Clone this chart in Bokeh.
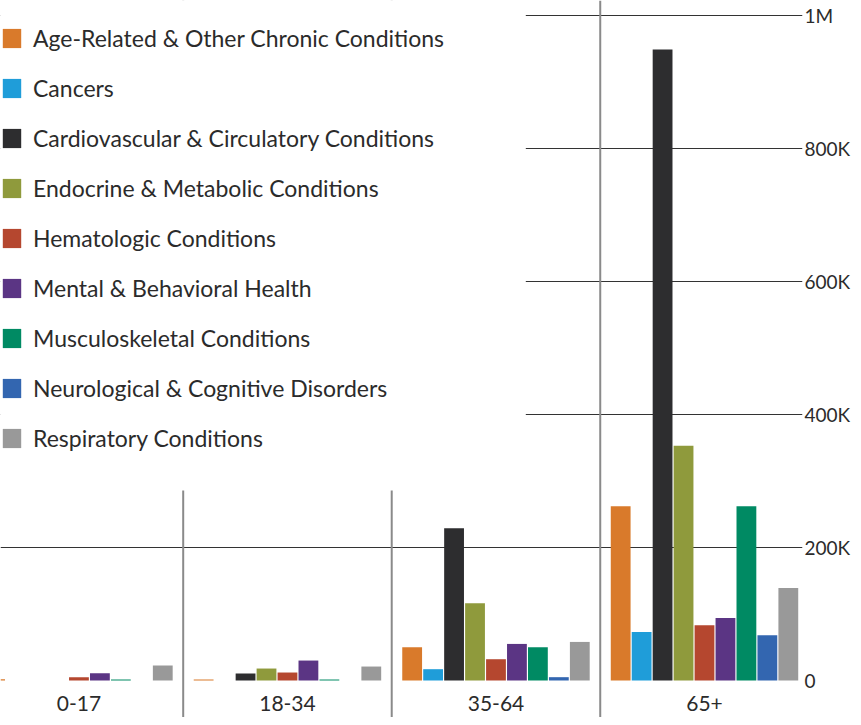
from bokeh.plotting import figure
from bokeh.models import Range1d, FixedTicker, Span, BoxAnnotation, Legend, LegendItem, ColumnDataSource
from bokeh.core.properties import value
from bokeh.embed import file_html
from bokeh.resources import INLINE

age_groups = ["0-17", "18-34", "35-64", "65+"]

categories = [
    "Age-Related & Other Chronic Conditions",
    "Cancers",
    "Cardiovascular & Circulatory Conditions",
    "Endocrine & Metabolic Conditions",
    "Hematologic Conditions",
    "Mental & Behavioral Health",
    "Musculoskeletal Conditions",
    "Neurological & Cognitive Disorders",
    "Respiratory Conditions",
]

colors = ["#D97A2B", "#1F9DD9", "#2D2D2F", "#8F9A3C", "#B5472F",
          "#5B3584", "#008A63", "#3366B0", "#999999"]

age_related = [2000, 1500, 50000, 262000]
cancers = [0, 0, 17000, 73000]
cardiovascular = [0, 10500, 229000, 949000]
endocrine = [0, 18000, 116000, 353000]
hematologic = [5000, 12000, 32000, 83000]
mental = [11000, 30000, 55000, 94000]
musculoskeletal = [1500, 1500, 50000, 262000]
neurological = [0, 0, 5000, 68000]
respiratory = [22500, 21000, 58000, 139000]

series = [age_related, cancers, cardiovascular, endocrine, hematologic,
          mental, musculoskeletal, neurological, respiratory]

y_ticks = [0, 200000, 400000, 600000, 800000, 1000000]
y_tick_labels = ["0", "200K", "400K", "600K", "800K", "1M"]

FONT = "Lato"
TEXT = "#2b2b2b"

p = figure(width=853, height=717, output_backend="svg", toolbar_location=None,
           x_range=Range1d(0.1238, 3.97), y_range=Range1d(-55639, 1022556),
           y_axis_location="right", x_axis_location=None, min_border=0)
p.outline_line_color = None
p.background_fill_color = "white"
p.border_fill_color = "white"

# axis
ax = p.yaxis[0]
ax.ticker = FixedTicker(ticks=y_ticks)
ax.major_label_overrides = {t: l for t, l in zip(y_ticks, y_tick_labels)}
ax.axis_line_color = None
ax.major_tick_line_color = None
ax.minor_tick_line_color = None
ax.major_tick_out = 0
ax.major_tick_in = 0
ax.major_label_standoff = 2
ax.major_label_text_font = FONT
ax.major_label_text_font_size = "19px"
ax.major_label_text_color = TEXT

p.xgrid.visible = False
p.ygrid.ticker = FixedTicker(ticks=y_ticks[1:])
p.ygrid.grid_line_color = "#333333"
p.ygrid.grid_line_width = 1

# group dividers
for k in range(1, len(age_groups)):
    p.add_layout(Span(location=k, dimension="height", line_color="#8a8a8a",
                      line_width=2, level="underlay"))

slot = 0.1005
bar_w = 0.095
n = len(categories)
items = []
for j, (cat, col, vals) in enumerate(zip(categories, colors, series)):
    xs = [g + 0.5 + (j - (n - 1) / 2) * slot for g in range(len(age_groups))]
    src = ColumnDataSource(dict(x=xs, top=vals))
    r = p.vbar(x="x", top="top", bottom=0, width=bar_w, source=src,
               fill_color=col, line_color=None)
    items.append(LegendItem(label=cat, renderers=[r]))

# group labels
p.text(x=[g + 0.5 for g in range(len(age_groups))], y=[-34000] * len(age_groups),
       text=age_groups, text_align="center", text_baseline="middle",
       text_font=value(FONT), text_font_size="21px", text_color=TEXT)

# white area behind legend
p.add_layout(BoxAnnotation(left=-1, right=2.643, bottom=285714, top=2000000,
                           fill_color="white", fill_alpha=1, line_color=None))

legend = Legend(items=items, location=(0, 265), glyph_width=23, glyph_height=24,
                label_height=28, spacing=22, padding=0, margin=0, label_standoff=10,
                label_text_font=FONT, label_text_font_size="23px",
                label_text_color=TEXT, background_fill_alpha=0, border_line_alpha=0)
p.add_layout(legend)

open("out.html", "w").write(file_html(p, INLINE))
